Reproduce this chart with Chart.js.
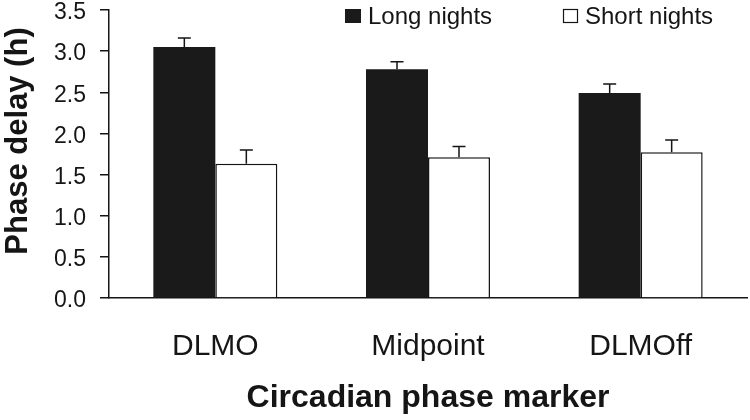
<!DOCTYPE html>
<html>
<head>
<meta charset="utf-8">
<script src="https://cdn.jsdelivr.net/npm/chart.js@4.4.1/dist/chart.umd.min.js"></script>
<style>
  html, body { margin: 0; padding: 0; background: #fff; }
  #wrap { width: 750px; height: 420px; }
</style>
</head>
<body>
<div id="wrap"><canvas id="c" width="750" height="420"></canvas></div>
<script>
// ---- data ----
const categories = ['DLMO', 'Midpoint', 'DLMOff'];
const seriesNames = ['Long nights', 'Short nights'];
const longNights = [3.05, 2.78, 2.49];
const shortNights = [1.63, 1.71, 1.77];
const longErr = [0.11, 0.09, 0.11];
const shortErr = [0.17, 0.13, 0.15];
const yTicks = [0, 0.5, 1.0, 1.5, 2.0, 2.5, 3.0, 3.5];
const yTitle = 'Phase delay (h)';
const xTitle = 'Circadian phase marker';

const FONT = "'Liberation Sans', Arial, Helvetica, sans-serif";
const INK = '#151515';

const errorBars = {
  id: 'errorBars',
  afterDatasetsDraw(chart) {
    const ctx = chart.ctx;
    const y = chart.scales.y;
    ctx.save();
    ctx.strokeStyle = INK;
    ctx.lineWidth = 1.5;
    chart.data.datasets.forEach((ds, i) => {
      const meta = chart.getDatasetMeta(i);
      meta.data.forEach((bar, j) => {
        const v = ds.data[j];
        const e = ds.errors[j];
        const top = y.getPixelForValue(v + e);
        const base = y.getPixelForValue(v);
        ctx.beginPath();
        ctx.moveTo(bar.x, base);
        ctx.lineTo(bar.x, top);
        ctx.moveTo(bar.x - 6.5, top);
        ctx.lineTo(bar.x + 6.5, top);
        ctx.stroke();
      });
    });
    ctx.restore();
  }
};

const customLegend = {
  id: 'customLegend',
  afterDraw(chart) {
    const ctx = chart.ctx;
    const spots = [{sx: 345, tx: 368}, {sx: 563, tx: 585}];
    ctx.save();
    ctx.font = '24px ' + FONT;
    ctx.textBaseline = 'middle';
    ctx.textAlign = 'left';
    chart.data.datasets.forEach((ds, i) => {
      const s = spots[i];
      if (ds.backgroundColor === '#ffffff') {
        ctx.fillStyle = '#ffffff';
        ctx.fillRect(s.sx, 9, 14, 13);
        ctx.strokeStyle = INK;
        ctx.lineWidth = 1.2;
        ctx.strokeRect(s.sx + 0.5, 9.5, 14, 13);
      } else {
        ctx.fillStyle = ds.backgroundColor;
        ctx.fillRect(s.sx, 9, 16, 14);
      }
      ctx.fillStyle = INK;
      ctx.fillText(ds.label, s.tx, 17);
    });
    ctx.restore();
  }
};

const yTitlePlugin = {
  id: 'yTitlePlugin',
  afterDraw(chart) {
    const ctx = chart.ctx;
    ctx.save();
    ctx.translate(18, 141);
    ctx.rotate(-Math.PI / 2);
    ctx.font = 'bold 31px ' + FONT;
    ctx.fillStyle = INK;
    ctx.textAlign = 'center';
    ctx.textBaseline = 'middle';
    ctx.fillText(yTitle, 0, 0);
    ctx.restore();
  }
};

new Chart(document.getElementById('c'), {
  type: 'bar',
  data: {
    labels: categories,
    datasets: [
      {
        label: seriesNames[0],
        data: longNights,
        errors: longErr,
        backgroundColor: '#1a1a1a',
        borderColor: INK,
        borderWidth: 0,
        categoryPercentage: 0.583,
        barPercentage: 1.0
      },
      {
        label: seriesNames[1],
        data: shortNights,
        errors: shortErr,
        backgroundColor: '#ffffff',
        borderColor: INK,
        borderWidth: 1.5,
        borderSkipped: 'bottom',
        categoryPercentage: 0.583,
        barPercentage: 1.0
      }
    ]
  },
  options: {
    responsive: false,
    animation: false,
    devicePixelRatio: 1,
    layout: { autoPadding: false, padding: { left: 0, right: 3, top: 10, bottom: 0 } },
    plugins: {
      legend: { display: false },
      title: { display: false },
      tooltip: { enabled: false }
    },
    scales: {
      x: {
        offset: true,
        grid: { display: false, drawTicks: false },
        border: { display: true, color: INK, width: 1.5 },
        ticks: {
          font: { family: FONT, size: 30 },
          color: INK,
          padding: 31,
          maxRotation: 0
        },
        title: {
          display: true,
          text: xTitle,
          font: { family: FONT, size: 32, weight: 'bold' },
          color: INK,
          padding: { top: 0, bottom: 3 }
        },
        afterFit(scale) {
          scale.height = 122;
          scale.paddingLeft = 0; scale.paddingRight = 0;
          scale.paddingTop = 0; scale.paddingBottom = 0;
        }
      },
      y: {
        min: 0,
        max: 3.5,
        afterBuildTicks(scale) { scale.ticks = yTicks.map(v => ({ value: v })); },
        grid: {
          display: true,
          drawOnChartArea: false,
          drawTicks: true,
          tickLength: 9,
          color: INK,
          lineWidth: 1.5
        },
        border: { display: true, color: INK, width: 1.5 },
        ticks: {
          font: { family: FONT, size: 23 },
          color: INK,
          padding: 14,
          labelOffset: 3,
          callback: (v) => Number(v).toFixed(1)
        },
        afterFit(scale) {
          scale.width = 109;
          scale.paddingLeft = 0; scale.paddingRight = 0;
          scale.paddingTop = 0; scale.paddingBottom = 0;
        }
      }
    }
  },
  plugins: [errorBars, customLegend, yTitlePlugin]
});
</script>
</body>
</html>
